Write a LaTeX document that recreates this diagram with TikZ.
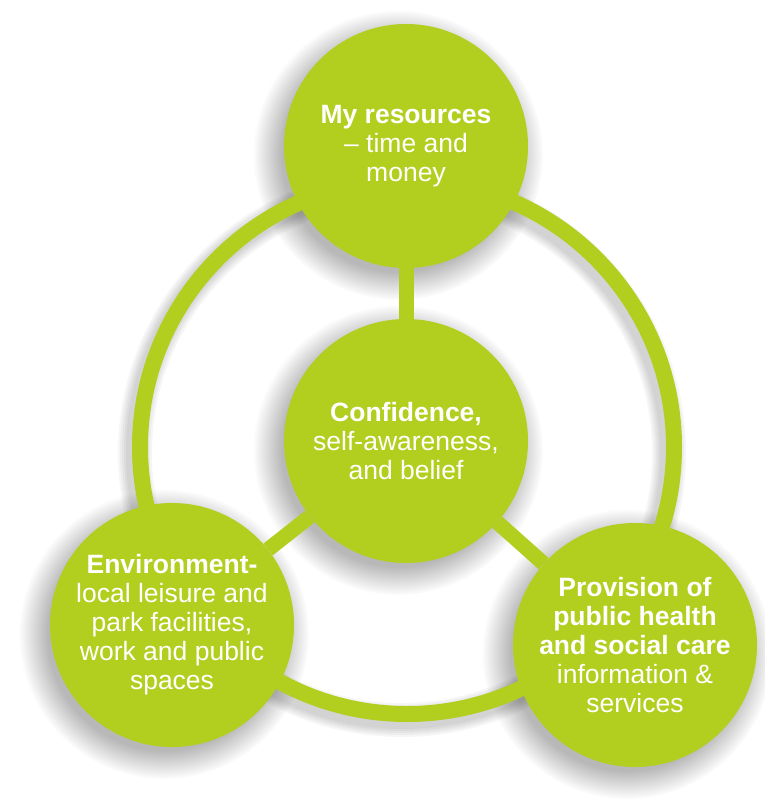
\documentclass[tikz,border=0pt]{standalone}
\usepackage{fontspec}
\setmainfont{Liberation Sans}
\usetikzlibrary{fadings,calc}
\definecolor{lime}{RGB}{178,206,30}
\pgfdeclarelayer{shadow}
\pgfdeclarelayer{background}
\pgfsetlayers{shadow,background,main}
\tikzset{
  bubble/.style={circle, fill=lime, minimum size=244pt, inner sep=0pt, text=white, align=center,
    font=\fontsize{26.5pt}{29pt}\selectfont},
  link/.style={draw=lime, line width=15pt},
  softshade/.style={fill=black, opacity=0.28, path fading=circle with fuzzy edge 20 percent},
}
\begin{document}
\begin{tikzpicture}[x=1pt,y=-1pt]
\useasboundingbox (0,0) rectangle (764,800);
\node[bubble] (top) at (406,146) {\textbf{My resources}\\ -- time and\\ money};
\node[bubble] (mid) at (406,441) {\textbf{Confidence,}\\ self-awareness,\\ and belief};
\node[bubble] (left) at (172,625) {\textbf{Environment-}\\ local leisure and\\ park facilities,\\ work and public\\ spaces};
\node[bubble] (right) at (635,645) {\textbf{Provision of}\\ \textbf{public health}\\ \textbf{and social care}\\ information \&\\ services};
\coordinate (ringc) at (407,447);
\begin{pgfonlayer}{background}
  \draw[lime, line width=16pt] (ringc) circle[radius=267pt];
  \draw[link] (top) -- (mid);
  \draw[link] (mid) -- (left);
  \draw[link] (mid) -- (right);
\end{pgfonlayer}
\begin{pgfonlayer}{shadow}
  \fill[white] (0,0) rectangle (764,800);
  \foreach \w in {18,22,26,30,34} {
    \draw[black, opacity=0.035, line width=\w pt] ($(ringc)+(-5,6)$) circle[radius=267pt];
  }
  \foreach \n in {top,mid,left,right} {
    \fill[softshade] ($(\n.center)+(-8,9)$) circle[radius=145pt];
  }
\end{pgfonlayer}
\end{tikzpicture}
\end{document}
